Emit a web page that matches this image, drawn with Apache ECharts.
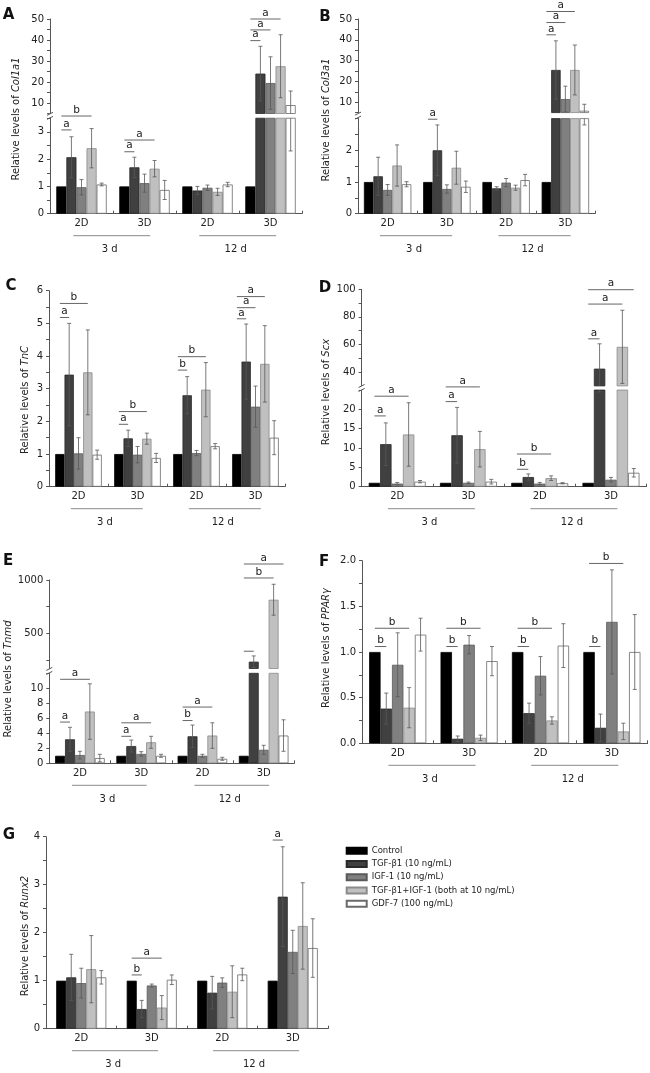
<!DOCTYPE html>
<html><head><meta charset="utf-8">
<script src="https://cdn.jsdelivr.net/npm/echarts@6/dist/echarts.min.js"></script>
<style>html,body{margin:0;padding:0;background:#fff}#c{width:650px;height:1073px}</style>
</head><body><div id="c"></div>
<script>
// ---------------- DATA ----------------
const groupLabels = ['2D', '3D', '2D', '3D'];
const periodLabels = ['3 d', '12 d'];
const treatments = ['Control', 'TGF-β1 (10 ng/mL)', 'IGF-1 (10 ng/mL)', 'TGF-β1+IGF-1 (both at 10 ng/mL)', 'GDF-7 (100 ng/mL)'];

// rows: treatments; columns: 2D/3 d, 3D/3 d, 2D/12 d, 3D/12 d
const col1a1Mean = [[1,1,1,1],[2.07,1.70,0.85,24],[0.97,1.12,0.95,19.5],[2.40,1.65,0.80,27.5],[1.07,0.87,1.07,9]];
const col1a1Sd   = [[0,0,0,0],[0.75,0.37,0.15,13],[0.28,0.33,0.10,12.5],[0.72,0.30,0.13,15],[0.05,0.35,0.08,6.7]];
// [group, from treatment, to treatment, level, letter, axis part (0 lower, 1 upper)]
const col1a1Sig  = [[0,0,1,3.07,'a',0],[0,0,3,3.58,'b',0],[1,0,1,2.27,'a',0],[1,0,3,2.7,'a',0],[3,0,1,39.7,'a',1],[3,0,2,44.8,'a',1],[3,0,3,50,'a',1]];
const col1a1TicksLow = [0,0.5,1,1.5,2,2.5,3,3.5];
const col1a1LabelsLow = [0,1,2,3];
const col1a1TicksHigh = [5,10,15,20,25,30,35,40,45,50];
const col1a1LabelsHigh = [10,20,30,40,50];

const col3a1Mean = [[1,1,1,1],[1.18,2.0,0.80,25.5],[0.75,0.78,0.98,11.5],[1.52,1.45,0.82,25.5],[0.93,0.85,1.06,5.9]];
const col3a1Sd   = [[0,0,0,0],[0.6,0.8,0.05,14],[0.17,0.13,0.13,6.2],[0.65,0.52,0.08,12],[0.08,0.18,0.18,3.1]];
const col3a1Sig  = [[1,0,1,2.98,'a',0],[3,0,1,42.4,'a',1],[3,0,2,48.3,'a',1],[3,0,3,53.6,'a',1]];
const col3a1TicksLow = [0,0.5,1,1.5,2,2.5,3];
const col3a1LabelsLow = [0,1,2];
const col3a1TicksHigh = [5,10,15,20,25,30,35,40,45,50];
const col3a1LabelsHigh = [10,20,30,40,50];

const tncMean = [[1,1,1,1],[3.43,1.48,2.80,3.83],[1.02,0.98,1.03,2.45],[3.50,1.47,2.97,3.76],[0.98,0.88,1.24,1.50]];
const tncSd   = [[0,0,0,0],[1.57,0.25,0.57,1.15],[0.48,0.25,0.08,0.63],[1.30,0.17,0.83,1.17],[0.14,0.14,0.08,0.52]];
const tncSig  = [[0,0,1,5.18,'a',0],[0,0,3,5.61,'b',0],[1,0,1,1.91,'a',0],[1,0,3,2.3,'b',0],[2,0,1,3.57,'b',0],[2,0,3,3.98,'b',0],[3,0,1,5.14,'a',0],[3,0,2,5.48,'a',0],[3,0,3,5.82,'a',0]];
const tncTicks = [0,0.5,1,1.5,2,2.5,3,3.5,4,4.5,5,5.5,6];
const tncLabels = [0,1,2,3,4,5,6];

const scxMean = [[1,1,1,1],[11,13.3,2.5,42.5],[0.8,1.0,0.8,1.8],[13.5,9.7,2.2,58.3],[1.3,1.3,0.9,3.6]];
const scxSd   = [[0,0,0,0],[5.5,7.2,0.8,18],[0.3,0.2,0.3,0.6],[8.2,4.6,0.6,26.5],[0.3,0.6,0.15,1.1]];
const scxSig  = [[0,0,1,18.3,'a',0],[0,0,3,23.4,'a',0],[1,0,1,22,'a',0],[1,0,3,25.8,'a',0],[2,0,1,4.5,'b',0],[2,0,3,8.45,'b',0],[3,0,1,64.1,'a',1],[3,0,3,89.3,'a',1],[3,0,4,99.7,'a',1]];
const scxTicksLow = [0,5,10,15,20,25];
const scxLabelsLow = [0,5,10,15,20];
const scxTicksHigh = [30,40,50,60,70,80,90,100];
const scxLabelsHigh = [40,60,80,100];

const tnmdMean = [[1,1,1,1],[3.2,2.3,3.6,234],[1.1,1.25,1.0,1.8],[6.9,2.8,3.7,815],[0.7,1.0,0.6,3.7]];
const tnmdSd   = [[0,0,0,0],[1.6,0.8,1.5,54],[0.5,0.3,0.2,0.6],[3.7,0.8,1.7,145],[0.5,0.2,0.2,2.1]];
const tnmdSig  = [[0,0,1,5.5,'a',0],[0,0,3,11.2,'a',0],[1,0,1,3.6,'a',0],[1,0,3,5.4,'a',0],[2,0,1,5.7,'b',0],[2,0,3,7.5,'a',0],[3,0,1,332,'',1],[3,0,3,1019,'b',1],[3,0,4,1150,'a',1]];
const tnmdTicksLow = [0,2,4,6,8,10,12];
const tnmdLabelsLow = [0,2,4,6,8,10];
const tnmdTicksHigh = [250,500,750,1000];
const tnmdLabelsHigh = [500,1000];

const pparMean = [[1,1,1,1],[0.38,0.05,0.33,0.17],[0.86,1.08,0.74,1.33],[0.39,0.06,0.25,0.13],[1.19,0.90,1.07,1.00]];
const pparSd   = [[0,0,0,0],[0.17,0.03,0.11,0.15],[0.35,0.10,0.21,0.57],[0.22,0.03,0.04,0.09],[0.18,0.16,0.24,0.41]];
const pparSig  = [[0,0,1,1.06,'b',0],[0,0,3,1.26,'b',0],[1,0,1,1.06,'b',0],[1,0,3,1.26,'b',0],[2,0,1,1.06,'b',0],[2,0,3,1.26,'b',0],[3,0,1,1.06,'b',0],[3,0,3,1.97,'b',0]];
const pparTicks = [0,0.25,0.5,0.75,1,1.25,1.5,1.75,2];
const pparLabels = [0,0.5,1,1.5,2];

const runx2Mean = [[1,1,1,1],[1.07,0.41,0.75,2.75],[0.95,0.90,0.96,1.60],[1.24,0.44,0.77,2.14],[1.07,1.02,1.13,1.68]];
const runx2Sd   = [[0,0,0,0],[0.48,0.18,0.34,1.04],[0.31,0.03,0.10,0.45],[0.70,0.25,0.54,0.90],[0.14,0.10,0.13,0.61]];
const runx2Sig  = [[1,0,1,1.12,'b',0],[1,0,3,1.47,'a',0],[3,0,1,3.93,'a',0]];
const runx2Ticks = [0,0.5,1,1.5,2,2.5,3,3.5,4];
const runx2Labels = [0,1,2,3,4];

// ---------------- STYLE / LAYOUT ----------------
const F = 'DejaVu Sans';
const barColors = ['#000000', '#404040', '#808080', '#c0c0c0', '#ffffff'];
const barBorders = ['#000000', '#2a2a2a', '#5a5a5a', '#8a8a8a', '#6a6a6a'];
const axisColor = '#555';

const panels = [
  {letter:'A', gene:'Col1a1', mean:col1a1Mean, sd:col1a1Sd, sig:col1a1Sig, left:50, width:252, gap:0.2,
   parts:[{top:118.2,height:95.5,min:0,max:3.5,ticks:col1a1TicksLow,labels:col1a1LabelsLow},
          {top:19,height:94.5,min:5,max:50,ticks:col1a1TicksHigh,labels:col1a1LabelsHigh}],
   title:[16,119], pos:[8.5,15]},
  {letter:'B', gene:'Col3a1', mean:col3a1Mean, sd:col3a1Sd, sig:col3a1Sig, left:358, width:237, gap:0.2,
   parts:[{top:118.6,height:95.1,min:0,max:3,ticks:col3a1TicksLow,labels:col3a1LabelsLow},
          {top:19,height:93.6,min:5,max:50,ticks:col3a1TicksHigh,labels:col3a1LabelsHigh}],
   title:[326,120], pos:[325,17]},
  {letter:'C', gene:'TnC', mean:tncMean, sd:tncSd, sig:tncSig, left:49, width:236, gap:0.21,
   parts:[{top:290.7,height:196,min:0,max:6,ticks:tncTicks,labels:tncLabels}],
   title:[25,400], pos:[11,286]},
  {letter:'D', gene:'Scx', mean:scxMean, sd:scxSd, sig:scxSig, left:361.6, width:285, gap:0.2,
   parts:[{top:390,height:96.7,min:0,max:25,ticks:scxTicksLow,labels:scxLabelsLow},
          {top:289.3,height:96.6,min:30,max:100,ticks:scxTicksHigh,labels:scxLabelsHigh}],
   title:[326,392], pos:[325,288]},
  {letter:'E', gene:'Tnmd', mean:tnmdMean, sd:tnmdSd, sig:tnmdSig, left:49.3, width:245, gap:0.19,
   parts:[{top:673.3,height:90,min:0,max:12,ticks:tnmdTicksLow,labels:tnmdLabelsLow},
          {top:580,height:88.5,min:170,max:1000,ticks:tnmdTicksHigh,labels:tnmdLabelsHigh}],
   title:[8,679], pos:[8,561]},
  {letter:'F', gene:'PPARγ', mean:pparMean, sd:pparSd, sig:pparSig, left:362, width:285.6, gap:0.2,
   parts:[{top:560.7,height:182.6,min:0,max:2,ticks:pparTicks,labels:pparLabels,fmt:v=>Number(v).toFixed(1)}],
   title:[326,648], pos:[324,562]},
  {letter:'G', gene:'Runx2', mean:runx2Mean, sd:runx2Sd, sig:runx2Sig, left:46, width:282, gap:0.29,
   parts:[{top:836.7,height:192,min:0,max:4,ticks:runx2Ticks,labels:runx2Labels}],
   title:[25,936], pos:[9,835]}
];

const grid = [], xAxis = [], yAxis = [], series = [], graphic = [];

function barOffset(band, frac, t) {
  return band * (-frac / 2 + frac / 5 * (t + 0.5));
}

function addPart(P, part, idx, isBase) {
  const gi = grid.length;
  const frac = 1 - P.gap;
  grid.push({left:P.left, top:part.top, width:P.width, height:part.height, containLabel:false, outerBoundsMode:'none'});
  xAxis.push({gridIndex:gi, type:'category', data:groupLabels, show:isBase,
    axisLine:{show:true, lineStyle:{color:axisColor, width:1}},
    axisTick:{show:true, inside:true, length:3, lineStyle:{color:axisColor}},
    axisLabel:{show:true, margin:5, fontSize:10, fontFamily:F, color:'#222'},
    splitLine:{show:false}});
  yAxis.push({gridIndex:gi, type:'value', min:part.min, max:part.max,
    axisLine:{show:true, lineStyle:{color:axisColor, width:1}},
    axisTick:{show:true, length:3, lineStyle:{color:axisColor}, customValues:part.ticks},
    axisLabel:{show:true, margin:6, fontSize:10, fontFamily:F, color:'#222', customValues:part.labels,
      formatter: part.fmt || (v => String(v))},
    splitLine:{show:false}});
  for (let t = 0; t < 5; t++) {
    series.push({type:'bar', name:treatments[t], xAxisIndex:gi, yAxisIndex:gi, data:P.mean[t],
      barGap:'0%', barCategoryGap:(P.gap*100)+'%', clip:true, animation:false,
      emphasis:{disabled:true},
      itemStyle:{color:barColors[t], borderColor:barBorders[t], borderWidth:0.8}});
  }
  const errData = [];
  for (let t = 1; t < 5; t++) for (let g = 0; g < 4; g++) errData.push([g, t, P.mean[t][g], P.sd[t][g]]);
  series.push({type:'custom', xAxisIndex:gi, yAxisIndex:gi, data:errData, encode:{x:0, y:2},
    clip:true, silent:true, animation:false, z:5,
    renderItem:(params, api) => {
      const g = api.value(0), t = api.value(1), m = api.value(2), s = api.value(3);
      const band = api.size([1, 0])[0];
      const x = api.coord([g, m])[0] + barOffset(band, frac, t);
      const yT = api.coord([g, m + s])[1], yB = api.coord([g, m - s])[1];
      const st = {stroke:'#585858', lineWidth:0.8};
      return {type:'group', children:[
        {type:'line', shape:{x1:x, y1:yT, x2:x, y2:yB}, style:st},
        {type:'line', shape:{x1:x-2, y1:yT, x2:x+2, y2:yT}, style:st},
        {type:'line', shape:{x1:x-2, y1:yB, x2:x+2, y2:yB}, style:st}]};
    }});
  const sig = P.sig.filter(s => s[5] === idx);
  if (sig.length) {
    series.push({type:'custom', xAxisIndex:gi, yAxisIndex:gi, data:sig.map(s => [s[0], s[3]]), encode:{x:0, y:1},
      clip:false, silent:true, animation:false, z:6,
      renderItem:(params, api) => {
        const s = sig[params.dataIndex];
        const band = api.size([1, 0])[0];
        const c = api.coord([s[0], s[3]]);
        const x1 = c[0] + barOffset(band, frac, s[1]);
        const x2 = c[0] + barOffset(band, frac, s[2]);
        const y = c[1];
        return {type:'group', children:[
          {type:'line', shape:{x1:x1, y1:y, x2:x2, y2:y}, style:{stroke:'#666', lineWidth:1}},
          {type:'text', style:{text:s[4], x:(x1 + x2) / 2, y:y - 0.5, align:'center', verticalAlign:'bottom',
            textAlign:'center', textVerticalAlign:'bottom', font:'10.5px "' + F + '"', fill:'#222'}}]};
      }});
  }
  if (isBase) {
    series.push({type:'custom', xAxisIndex:gi, yAxisIndex:gi, data:[[0, 1], [2, 3]], encode:{x:0, y:1},
      clip:false, silent:true, animation:false,
      renderItem:(params, api) => {
        const i = params.dataIndex;
        const band = api.size([1, 0])[0];
        const pa = api.coord([2 * i, part.min]), pb = api.coord([2 * i + 1, part.min]);
        const y0 = pa[1];
        const xs = pa[0] - 0.13 * band, xe = pb[0] + 0.09 * band;
        return {type:'group', children:[
          {type:'line', shape:{x1:xs, y1:y0 + 22, x2:xe, y2:y0 + 22}, style:{stroke:'#8a8a8a', lineWidth:1}},
          {type:'text', style:{text:periodLabels[i], x:(xs + xe) / 2 - 2, y:y0 + 36, align:'center', verticalAlign:'middle',
            textAlign:'center', textVerticalAlign:'middle', font:'10px "' + F + '"', fill:'#222'}}]};
      }});
  }
}

panels.forEach(P => {
  P.parts.forEach((part, idx) => addPart(P, part, idx, idx === 0));
  if (P.parts.length === 2) {
    const lo = P.parts[0], hi = P.parts[1];
    const yc = (hi.top + hi.height + lo.top) / 2;
    const x = P.left;
    graphic.push({type:'rect', shape:{x:x - 4, y:yc - 2, width:8, height:4}, style:{fill:'#fff'}, silent:true, z:10});
    graphic.push({type:'line', shape:{x1:x - 3, y1:yc - 0.5, x2:x + 3, y2:yc - 3.5}, style:{stroke:'#555', lineWidth:1}, silent:true, z:11});
    graphic.push({type:'line', shape:{x1:x - 3, y1:yc + 3.5, x2:x + 3, y2:yc + 0.5}, style:{stroke:'#555', lineWidth:1}, silent:true, z:11});
  }
  graphic.push({type:'text', x:P.pos[0], y:P.pos[1], silent:true,
    style:{text:P.letter, font:'bold 15px "' + F + '"', fill:'#111', align:'center', verticalAlign:'middle',
      textAlign:'center', textVerticalAlign:'middle'}});
  graphic.push({type:'text', x:P.title[0], y:P.title[1], rotation:Math.PI / 2, silent:true,
    style:{text:'{n|Relative levels of }{i|' + P.gene + '}',
      rich:{n:{fontSize:10, fontFamily:F, fill:'#222', color:'#222'},
            i:{fontSize:10, fontFamily:F, fontStyle:'italic', fill:'#222', color:'#222'}},
      align:'center', verticalAlign:'middle', textAlign:'center', textVerticalAlign:'middle'}});
});

const chart = echarts.init(document.getElementById('c'), null, {renderer:'canvas'});
chart.setOption({
  animation:false,
  backgroundColor:'#ffffff',
  textStyle:{fontFamily:F},
  grid, xAxis, yAxis, series, graphic,
  legend:{data:treatments, left:340.7, top:839, orient:'vertical', itemWidth:20, itemHeight:6, itemGap:0,
    icon:'rect', selectedMode:false,
    textStyle:{fontSize:8.5, lineHeight:13.3, fontFamily:F, color:'#222'}}
});
</script>
</body></html>
